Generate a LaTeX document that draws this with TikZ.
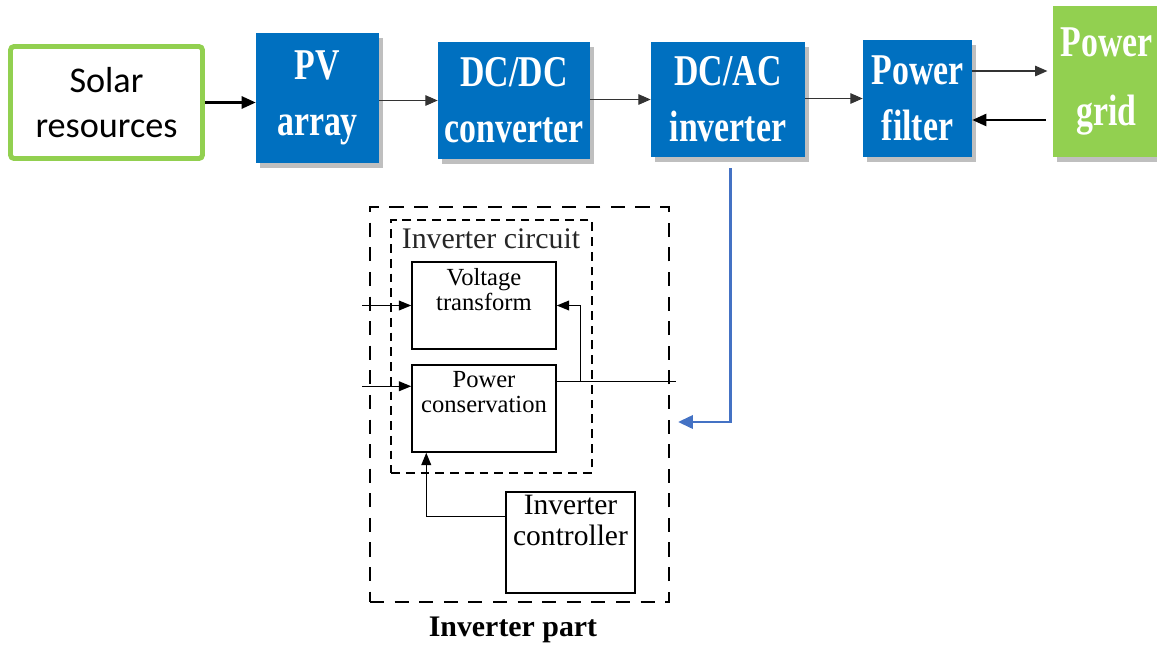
\documentclass[tikz,border=0pt]{standalone}
\usepackage{fontspec}
\setmainfont{Liberation Serif}
\newfontfamily\solarfont{Carlito}
\newfontfamily\blockfont[FakeStretch=0.77]{Liberation Serif Bold}
\usetikzlibrary{arrows.meta,shadows}
\definecolor{pvblue}{HTML}{0070C0}
\definecolor{leafgreen}{HTML}{92D050}
\definecolor{linkblue}{HTML}{4472C4}

\begin{document}
\begin{tikzpicture}[x=0.02cm, y=-0.02cm,
  srcbox/.style={draw=leafgreen, line width=2.8pt, rounded corners=2pt, fill=white,
    minimum width=3.84cm, minimum height=2.24cm, align=center,
    font=\solarfont\fontsize{20.6}{25.5}\selectfont},
  blkbox/.style={fill=pvblue, text=white, inner sep=0pt, align=center,
    drop shadow={shadow xshift=2pt, shadow yshift=-3pt, fill=black, opacity=0.25},
    font=\blockfont\fontsize{25}{32}\selectfont},
  gridbox/.style={fill=leafgreen, text=white, inner sep=0pt, align=center,
    drop shadow={shadow xshift=2pt, shadow yshift=-3pt, fill=black, opacity=0.25},
    font=\blockfont\fontsize{25}{39.5}\selectfont},
  partbox/.style={draw, line width=0.85pt, dash pattern=on 8pt off 6pt, inner sep=0pt},
  circbox/.style={draw, line width=0.85pt, dash pattern=on 5pt off 3.4pt, inner sep=0pt},
  unitbox/.style={draw, line width=0.85pt, inner sep=0pt,
    minimum width=2.88cm, minimum height=1.74cm},
  unittext/.style={align=center, inner sep=0pt, anchor=north,
    font=\fontsize{14}{14.2}\selectfont},
  arr/.style={-{Triangle[length=7pt, width=5.5pt]}, line width=0.85pt},
  thinarr/.style={-{Triangle[length=7pt, width=6pt]}, draw=black!80, line width=0.6pt},
  sarr/.style={-{Triangle[length=8pt, width=7pt]}, line width=1.2pt},
  bluearr/.style={-{Triangle[length=8.5pt, width=7.5pt]}, draw=linkblue, line width=1.7pt}
]
  \useasboundingbox (0,0) rectangle (1157,646);
  \clip (0,0) rectangle (1157,646);

  % top chain
  \node[srcbox] (solar) at (106.5,102.5) {Solar\\resources};
  \node[blkbox, minimum width=2.46cm, minimum height=2.60cm] (pv) at (317.5,98) {PV\\array};
  \node[blkbox, minimum width=3.04cm, minimum height=2.34cm] (dcdc) at (514,100.5) {DC/DC\\converter};
  \node[blkbox, minimum width=3.08cm, minimum height=2.30cm] (dcac) at (728,99.5) {DC/AC\\inverter};
  \node[blkbox, minimum width=2.18cm, minimum height=2.34cm] (filter) at (917.5,98.5) {Power\\filter};
  \node[gridbox, minimum width=2.14cm, minimum height=3.02cm] (grid) at (1106.5,81.5) {Power\\grid};

  \draw[sarr] (solar.east) -- (pv.west |- solar.east);
  \draw[thinarr] (pv.east |- dcdc.west) -- (dcdc.west);
  \draw[thinarr] (dcdc.east |- dcac.west) -- (dcac.west);
  \draw[thinarr] (dcac.east |- filter.west) -- (filter.west);
  \coordinate (fup) at ([yshift=0.55cm]filter.east);
  \coordinate (fdown) at ([yshift=-0.43cm]filter.east);
  \draw[thinarr, shorten >=3pt] (fup) -- (fup -| grid.west);
  \draw[sarr, line width=1pt, shorten <=4pt] (fdown -| grid.west) -- (fdown);

  % inverter part
  \node[partbox, minimum width=5.98cm, minimum height=7.90cm] (part) at (519.5,404.5) {};
  \node[circbox, minimum width=4.02cm, minimum height=5.06cm] (circ) at (491.5,346.5) {};
  \node[text=black!85, font=\fontsize{17}{20}\selectfont] (circlbl) at (491,239) {Inverter circuit};
  \node[unitbox, label={[unittext, yshift=-4pt]north:{Voltage\\transform}}] (vt) at (484,305.5) {};
  \node[unitbox, label={[unittext, yshift=-4pt]north:{Power\\conservation}}] (pc) at (484,408.5) {};
  \node[unitbox, minimum width=2.58cm, minimum height=2.02cm,
    label={[unittext, font=\fontsize{16.8}{17.5}\selectfont, yshift=-2pt]north:{Inverter\\controller}}]
    (ctl) at (570.5,542.5) {};
  \node[font=\bfseries\fontsize{17}{20}\selectfont] (partlbl) at (513,630) {Inverter part};

  \coordinate (vtin) at ([xshift=-0.98cm]vt.west);
  \coordinate (pcin) at ([xshift=-0.98cm, yshift=-0.44cm]pc.north west);
  \coordinate (pcout) at ([yshift=-0.34cm]pc.north east);
  \coordinate (tap) at ([xshift=0.48cm]pcout);
  \coordinate (busend) at ([xshift=2.38cm]pcout);
  \coordinate (ctlout) at ([yshift=-0.5cm]ctl.north west);
  \coordinate (partin) at (678,422);

  \draw[arr] (vtin) -- (vt.west);
  \draw[arr] (pcin) -- (pcin -| pc.west);
  \draw[line width=0.85pt] (pcout) -- (busend);
  \draw[arr] (tap) |- (vt.east);
  \draw[arr] (ctlout) -| ([xshift=0.3cm]pc.south west);
  \draw[bluearr] ([xshift=0.05cm, yshift=-0.22cm]dcac.south) |- (partin);
\end{tikzpicture}
\end{document}
